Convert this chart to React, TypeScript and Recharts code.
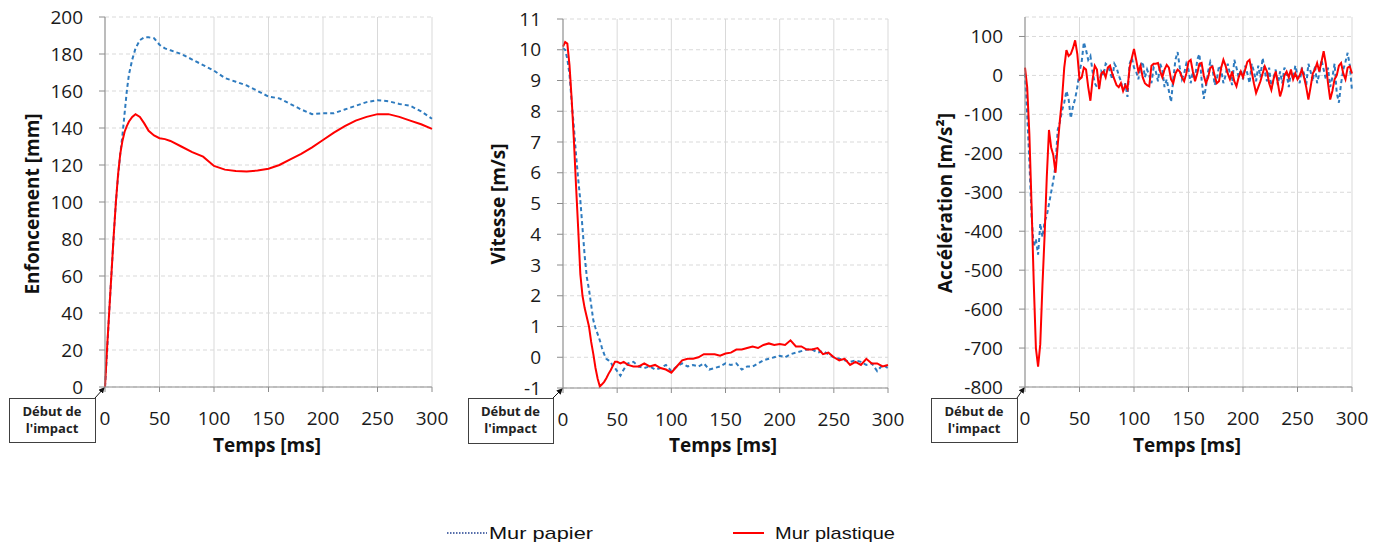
import React from "react";
import { LineChart, Line, XAxis, YAxis, CartesianGrid } from "recharts";

// ---------- data ----------
const X_TICKS = [0, 50, 100, 150, 200, 250, 300];
const DEPTH_TICKS = [0, 20, 40, 60, 80, 100, 120, 140, 160, 180, 200];
const SPEED_TICKS = [-1, 0, 1, 2, 3, 4, 5, 6, 7, 8, 9, 10, 11];
const ACC_TICKS = [-800, -700, -600, -500, -400, -300, -200, -100, 0, 100];

const TIME_DEPTH = [0, 2, 4, 6, 8, 10, 12, 14, 16, 18, 20, 22, 25, 28, 32, 36, 40, 45, 50, 55, 60,
  70, 80, 90, 100, 110, 120, 130, 140, 150, 160, 170, 180, 190, 200, 210, 220, 230, 240, 250, 260, 270, 280, 290, 300];
const DEPTH_PAPIER = [0, 20, 42, 62, 82, 100, 114, 126, 136, 148, 160, 169, 177, 183, 187.5, 189, 189, 188.5, 185, 183, 182,
  180, 177, 174, 171, 167, 165, 163, 160, 157, 156, 153, 150, 147.5, 148, 148, 150, 152, 154, 155, 154.5, 153, 152, 149, 145];
const DEPTH_PLASTIQUE = [0, 22, 42, 62, 82, 100, 115, 126, 133, 138, 141, 143.5, 146, 147.5, 146, 142.5, 138.5, 136, 134.5, 134, 133,
  130, 127, 124.5, 119.5, 117.5, 116.8, 116.5, 117, 118, 120, 123, 126, 129.5, 133.5, 137.5, 141, 144, 146, 147.5, 147.5, 146, 144, 142, 139.5];

const TIME_SPEED = [0, 2, 4, 6, 8, 10, 12, 14, 16, 18, 20, 22, 24, 26, 28, 30, 32, 34, 36, 38, 40, 42, 44, 46, 48, 50, 53, 56,
  60, 65, 70, 75, 80, 85, 90, 95, 100, 105, 110, 115, 120, 125, 130, 135, 140, 145, 150, 155, 160, 165, 170, 175, 180, 185, 190, 195, 200,
  205, 210, 215, 220, 225, 230, 235, 240, 245, 250, 255, 260, 265, 270, 275, 280, 285, 290, 295, 300];
const SPEED_PAPIER = [10.05, 10.0, 9.7, 9.2, 8.3, 7.5, 6.6, 5.8, 5.1, 4.2, 3.3, 2.6, 2.2, 1.7, 1.2, 0.95, 0.75, 0.55, 0.3, 0.1, -0.05, -0.1, -0.15, -0.3, -0.35, -0.45, -0.6, -0.4,
  -0.2, -0.15, -0.3, -0.35, -0.3, -0.4, -0.35, -0.25, -0.45, -0.3, -0.2, -0.3, -0.25, -0.3, -0.2, -0.4, -0.35, -0.3, -0.2, -0.25, -0.2, -0.4, -0.3, -0.3, -0.2, -0.1, -0.05, 0.0, 0.05,
  0.0, 0.1, 0.15, 0.2, 0.25, 0.25, 0.15, 0.2, 0.1, 0.0, -0.05, -0.1, -0.15, -0.1, -0.15, -0.25, -0.2, -0.45, -0.25, -0.35];
const SPEED_PLASTIQUE = [10.1, 10.25, 10.2, 9.5, 8.4, 7.1, 5.6, 4.2, 2.7, 2.0, 1.6, 1.3, 1.0, 0.5, 0.1, -0.35, -0.7, -0.95, -0.88, -0.8, -0.68, -0.54, -0.42, -0.28, -0.15, -0.15, -0.2, -0.15,
  -0.25, -0.3, -0.3, -0.2, -0.3, -0.25, -0.35, -0.4, -0.5, -0.3, -0.1, -0.05, -0.05, 0.0, 0.1, 0.1, 0.1, 0.05, 0.12, 0.15, 0.25, 0.25, 0.3, 0.35, 0.3, 0.4, 0.45, 0.4, 0.43,
  0.4, 0.55, 0.35, 0.35, 0.25, 0.25, 0.3, 0.1, 0.15, 0.0, -0.1, -0.05, -0.25, -0.15, -0.25, -0.05, -0.2, -0.2, -0.3, -0.25];

const TIME_ACC = [0, 2, 4, 6, 8, 10, 12, 14, 16, 18, 20, 22, 24, 26, 28, 30, 32, 34, 36, 38, 40, 42, 44, 46, 48, 50,
  52, 54, 56, 58, 60, 62, 64, 66, 68, 70, 72, 74, 76, 78, 80, 82, 84, 86, 88, 90, 92, 94, 96, 98, 100,
  102, 104, 106, 108, 110, 112, 114, 116, 118, 120, 122, 124, 126, 128, 130, 132, 134, 136, 138, 140,
  142, 144, 146, 148, 150, 152, 154, 156, 158, 160, 162, 164, 166, 168, 170, 172, 174, 176, 178, 180,
  182, 184, 186, 188, 190, 192, 194, 196, 198, 200, 202, 204, 206, 208, 210, 212, 214, 216, 218, 220,
  222, 224, 226, 228, 230, 232, 234, 236, 238, 240, 242, 244, 246, 248, 250, 252, 254, 256, 258, 260,
  262, 264, 266, 268, 270, 272, 274, 276, 278, 280, 282, 284, 286, 288, 290, 292, 294, 296, 298, 300];
const ACC_PAPIER = [5, -100, -220, -360, -440, -420, -460, -380, -415, -375,
  -360, -330, -300, -270, -230, -140, -120, -90, -70, -40,
  -60, -110, -80, -60, -30, 10, 35, 85, 65, 40,
  50, 10, -20, -30, -25, 10, 0, 30, 25, 10,
  -10, 30, 20, 0, -15, -40, -20, -55, 30, 45, 20,
  10, -10, 25, 35, -5, 15, 0, -20, 20, 10,
  -15, 30, 15, -30, -10, -40, -68, -10, 40, 60,
  20, -10, 5, 30, 15, -20, 10, -10, 40, 55,
  -10, -60, -30, 10, 35, 20, -25, -10, 25, 15,
  -20, 0, 30, 5, -25, 40, 20, -5, 15, -10,
  25, 5, -20, 30, 10, -15, 25, -5, 45, 10,
  -15, 20, -35, -5, 15, -25, 10, -20, 20, 5,
  -30, 10, -10, 25, 0, -20, 20, 5, -25, 30,
  10, -15, 25, -20, 5, 40, 15, -10, 20, -30,
  -5, 30, -45, -70, -20, 15, 35, 58, 25, -40];
const ACC_PLASTIQUE = [20, -30, -150, -330, -530, -700, -748, -690, -540, -410,
  -260, -140, -185, -205, -250, -180, -115, -60, 20, 65,
  50, 55, 70, 90, 55, -10, -5, 20, 15, -30,
  -65, -10, 25, 15, -35, 5, 10, -5, 20, 25,
  5, -10, -25, -30, -20, -40, -25, -35, 20, 45, 68,
  40, 10, 25, -5, -20, -25, -28, 25, 30, 30,
  32, 10, -5, 15, 27, 20, -10, -20, 5, 15,
  10, -5, -15, 5, 35, 40, 10, -15, 5, 30,
  32, 0, -20, -5, 20, 23, 0, -20, -15, 20,
  40, 25, 5, -10, 10, -15, -28, -5, 10, -5,
  15, 35, 40, 10, -20, -45, -30, -15, 5, 23,
  10, -20, -37, -10, 10, -20, -54, -35, 0, 10,
  -5, 15, -10, 5, -10, 0, 15, -5, -30, -62,
  -30, 5, 15, 32, 10, 35, 62, 30, -20, -62,
  -40, -10, 0, 25, 32, 5, -10, 20, 23, 5];

const build = (time: number[], a: number[], b: number[]) =>
  time.map((t, i) => ({ t, papier: a[i], plastique: b[i] }));

const depthData = build(TIME_DEPTH, DEPTH_PAPIER, DEPTH_PLASTIQUE);
const speedData = build(TIME_SPEED, SPEED_PAPIER, SPEED_PLASTIQUE);
const accData = build(TIME_ACC, ACC_PAPIER, ACC_PLASTIQUE);

// ---------- styles ----------
const TICK_FONT = "'Open Sans', sans-serif";
const TITLE_FONT = "'Open Sans', sans-serif";
const BLUE = "#2e7bbf";
const RED = "#ff0000";
const AXIS = "#8c8c8c";
const GRID = "#d9d9d9";

const YTick = (p: any) => (
  <text x={p.x} y={p.y} dy="0.355em" textAnchor="end" fontFamily={TICK_FONT} fontSize={19} fill="#1a1a1a">
    {p.payload.value}
  </text>
);
const XTick = (p: any) => (
  <text x={p.x} y={p.y} dy="0.71em" textAnchor="middle" fontFamily={TICK_FONT} fontSize={19} fill="#1a1a1a">
    {p.payload.value}
  </text>
);

type PanelProps = {
  left: number;
  data: any[];
  domain: [number, number];
  ticks: number[];
  margin: { top: number; right: number; bottom: number; left: number };
};

function Panel({ left, data, domain, ticks, margin }: PanelProps) {
  return (
    <div style={{ position: "absolute", left, top: 0 }}>
      <LineChart width={460} height={460} data={data} margin={margin}>
        <CartesianGrid horizontal={false} stroke={GRID} />
        <CartesianGrid vertical={false} stroke={GRID} strokeDasharray="4 3" />
        <XAxis
          type="number"
          dataKey="t"
          domain={[0, 300]}
          ticks={X_TICKS}
          interval={0}
          height={30}
          tickSize={5}
          tickMargin={20}
          axisLine={{ stroke: AXIS }}
          tickLine={{ stroke: AXIS }}
          tick={XTick}
        />
        <YAxis
          type="number"
          domain={domain}
          ticks={ticks}
          interval={0}
          width={60}
          tickSize={6}
          tickMargin={16}
          allowDataOverflow
          axisLine={{ stroke: AXIS }}
          tickLine={{ stroke: AXIS }}
          tick={YTick}
        />
        <Line
          type="linear"
          dataKey="papier"
          stroke={BLUE}
          strokeWidth={2}
          strokeDasharray="4 3"
          dot={false}
          isAnimationActive={false}
        />
        <Line
          type="linear"
          dataKey="plastique"
          stroke={RED}
          strokeWidth={2}
          dot={false}
          isAnimationActive={false}
        />
      </LineChart>
    </div>
  );
}

const Y_TITLES = [
  { text: "Enfoncement [mm]", x: 32, y: 204 },
  { text: "Vitesse [m/s]", x: 498, y: 204 },
  { text: "Accélération [m/s²]", x: 945, y: 203 },
];
const X_TITLES = [
  { text: "Temps [ms]", x: 267 },
  { text: "Temps [ms]", x: 723 },
  { text: "Temps [ms]", x: 1187 },
];
const BOXES = [
  { x: 9, y: 398, w: 86, h: 44, ax: 104, ay: 388 },
  { x: 468, y: 398, w: 85, h: 45, ax: 562, ay: 389 },
  { x: 931, y: 398, w: 86, h: 44, ax: 1024, ay: 388 },
];

function Overlay() {
  return (
    <svg width={1384} height={544} style={{ position: "absolute", left: 0, top: 0, pointerEvents: "none" }}>
      <defs>
        <marker id="arr" markerWidth="6" markerHeight="6" refX="5" refY="3" orient="auto" markerUnits="userSpaceOnUse">
          <path d="M0,0 L6,3 L0,6 z" fill="#111" />
        </marker>
      </defs>
      {Y_TITLES.map((t, i) => (
        <text
          key={"yt" + i}
          x={t.x}
          y={t.y}
          transform={`rotate(-90, ${t.x}, ${t.y})`}
          textAnchor="middle"
          dominantBaseline="central"
          fontFamily={TITLE_FONT}
          fontWeight="bold"
          fontSize={19}
          fill="#111"
        >
          {t.text}
        </text>
      ))}
      {X_TITLES.map((t, i) => (
        <text
          key={"xt" + i}
          x={t.x}
          y={452}
          textAnchor="middle"
          fontFamily={TITLE_FONT}
          fontWeight="bold"
          fontSize={19}
          fill="#111"
        >
          {t.text}
        </text>
      ))}
      {BOXES.map((b, i) => (
        <g key={"bx" + i}>
          <rect x={b.x + 0.5} y={b.y + 0.5} width={b.w} height={b.h} fill="#fff" stroke="#404040" strokeWidth={1} />
          <text x={b.x + b.w / 2} y={b.y + 18} textAnchor="middle" fontFamily={TITLE_FONT} fontWeight="bold" fontSize={13} fill="#222">
            Début de
          </text>
          <text x={b.x + b.w / 2} y={b.y + 35} textAnchor="middle" fontFamily={TITLE_FONT} fontWeight="bold" fontSize={13} fill="#222">
            l'impact
          </text>
          <line x1={b.x + b.w} y1={b.y} x2={b.ax} y2={b.ay} stroke="#111" strokeWidth={1} markerEnd="url(#arr)" />
        </g>
      ))}
      {/* legend */}
      <line x1={447} y1={533} x2={487} y2={533} stroke="#1f3f8f" strokeWidth={1.3} strokeDasharray="1.5 1.5" />
      <text x={489} y={539} fontFamily="'Liberation Sans', Arial, sans-serif" fontSize={17} fill="#111" textLength={104} lengthAdjust="spacingAndGlyphs">
        Mur papier
      </text>
      <line x1={733} y1={533} x2={764} y2={533} stroke={RED} strokeWidth={2} />
      <text x={775} y={539} fontFamily="'Liberation Sans', Arial, sans-serif" fontSize={17} fill="#111" textLength={120} lengthAdjust="spacingAndGlyphs">
        Mur plastique
      </text>
    </svg>
  );
}

export default function App() {
  return (
    <div style={{ position: "absolute", left: 0, top: 0, width: 1384, height: 544, background: "#fff", overflow: "hidden" }}>
      <Panel left={0} data={depthData} domain={[0, 200]} ticks={DEPTH_TICKS} margin={{ top: 17, right: 28, bottom: 43, left: 45 }} />
      <Panel left={460} data={speedData} domain={[-1, 11]} ticks={SPEED_TICKS} margin={{ top: 19, right: 32, bottom: 42, left: 43 }} />
      <Panel left={920} data={accData} domain={[-800, 150]} ticks={ACC_TICKS} margin={{ top: 17, right: 28, bottom: 43, left: 45 }} />
      <Overlay />
    </div>
  );
}
